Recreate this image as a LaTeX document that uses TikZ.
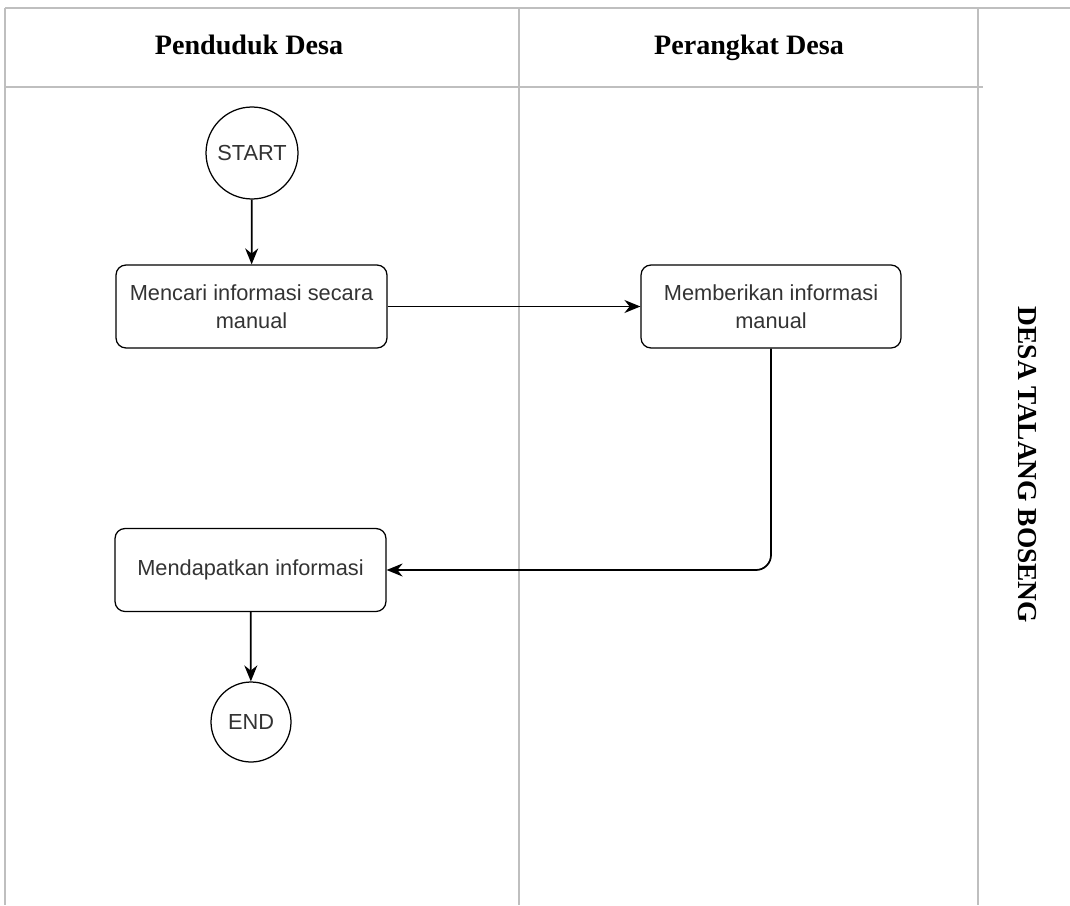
\documentclass[tikz,border=0pt]{standalone}
\usepackage{fontspec}
\setmainfont{Liberation Serif}
\setsansfont{Liberation Sans}
\usetikzlibrary{arrows.meta}
\tikzset{
	lane/.style={line width=0.5mm, color=black!25},
	lanetitle/.style={font=\fontsize{16}{19}\selectfont\bfseries, text height=11pt, text depth=3.5pt},
	prosesbox/.style={draw, line width=0.25mm, rounded corners=0.2cm, align=center, minimum height=1.66cm, font=\sffamily\fontsize{12.4}{16}\selectfont, text=black!80},
	ujung/.style={draw, circle, line width=0.25mm, inner sep=0pt, font=\sffamily\fontsize{12.4}{15}\selectfont, text=black!80},
	alur/.style={line width=0.35mm, -{Stealth[length=3.2mm, width=2.6mm]}}
}

\begin{document}
\begin{tikzpicture}[x=0.02cm, y=-0.02cm]
			%%%%% START %%%%%
			\useasboundingbox (0, 0) rectangle (1070, 905);
			
			% swimlane
			\draw[lane] (5, 8) -- (1070, 8);
			\draw[lane] (5, 8) -- (5, 905);
			\draw[lane] (5, 87) -- (983, 87);
			\draw[lane] (519, 8) -- (519, 905);
			\draw[lane] (978, 8) -- (978, 905);
			
			\node[lanetitle] (judulPenduduk) at (249, 48) {Penduduk Desa};
			\node[lanetitle] (judulPerangkat) at (749, 48) {Perangkat Desa};
			\node[lanetitle, rotate=-90, font=\fontsize{15.6}{19}\selectfont\bfseries] (judulDesa) at (1025, 465) {DESA TALANG BOSENG};
			
			% proses
			\node[ujung, minimum size=1.84cm] (start) at (252, 153) {START};
			\node[prosesbox, minimum width=5.42cm] (mencari) at (251.5, 306.5) {Mencari informasi secara\\manual};
			\node[prosesbox, minimum width=5.2cm] (memberikan) at (771, 306.5) {Memberikan informasi\\manual};
			\node[prosesbox, minimum width=5.42cm] (mendapatkan) at (250.5, 570) {Mendapatkan informasi};
			\node[ujung, minimum size=1.6cm] (end) at (251, 722) {END};
			
			% alur
			\draw[alur] (start) -- (mencari);
			\draw[alur] (mencari) -- (memberikan);
			\draw[alur, rounded corners=0.3cm] (memberikan.south) |- (mendapatkan.east);
			\draw[alur] (mendapatkan) -- (end);
			
			%%%%% END %%%%%
		\end{tikzpicture}
\end{document}
